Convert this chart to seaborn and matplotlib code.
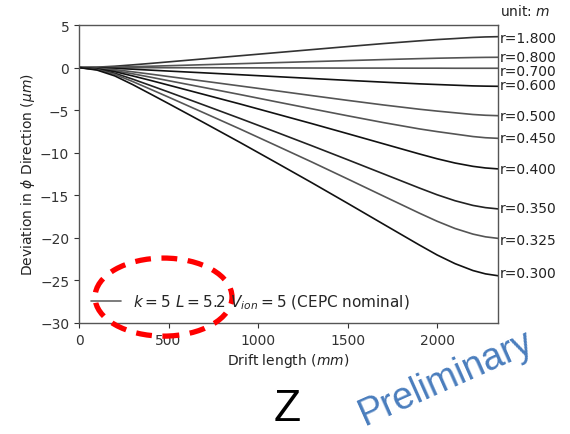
import matplotlib
matplotlib.use("Agg")
import matplotlib.pyplot as plt
from matplotlib.lines import Line2D
from matplotlib.patches import Ellipse
import seaborn as sns
import pandas as pd

# ---- data ----
drift_mm = [0, 100, 200, 300, 400, 500, 700, 900, 1100, 1300, 1500, 1700,
            1900, 2000, 2100, 2200, 2270, 2340]

r_labels = ["r=1.800", "r=0.800", "r=0.700", "r=0.600", "r=0.500",
            "r=0.450", "r=0.400", "r=0.350", "r=0.325", "r=0.300"]

dev_r1800 = [0, 0.05, 0.16, 0.32, 0.49, 0.67, 1.03, 1.39, 1.75, 2.11, 2.47, 2.82, 3.14, 3.29, 3.41, 3.54, 3.60, 3.63]
dev_r0800 = [0, 0.02, 0.05, 0.11, 0.16, 0.22, 0.34, 0.46, 0.58, 0.70, 0.82, 0.94, 1.05, 1.10, 1.14, 1.18, 1.20, 1.21]
dev_r0700 = [0, 0.0, 0.0, -0.01, -0.01, -0.02, -0.02, -0.03, -0.04, -0.05, -0.06, -0.06, -0.07, -0.07, -0.08, -0.08, -0.08, -0.08]
dev_r0600 = [0, -0.03, -0.09, -0.19, -0.30, -0.41, -0.62, -0.84, -1.06, -1.28, -1.50, -1.71, -1.91, -1.99, -2.07, -2.15, -2.18, -2.20]
dev_r0500 = [0, -0.07, -0.24, -0.50, -0.77, -1.05, -1.60, -2.16, -2.72, -3.29, -3.85, -4.39, -4.89, -5.11, -5.31, -5.51, -5.60, -5.65]
dev_r0450 = [0, -0.11, -0.36, -0.73, -1.13, -1.54, -2.35, -3.17, -4.01, -4.84, -5.66, -6.46, -7.20, -7.52, -7.81, -8.10, -8.24, -8.31]
dev_r0400 = [0, -0.14, -0.48, -0.98, -1.51, -2.06, -3.17, -4.28, -5.43, -6.58, -7.76, -8.95, -10.14, -10.71, -11.21, -11.60, -11.79, -11.90]
dev_r0350 = [0, -0.20, -0.66, -1.36, -2.11, -2.87, -4.42, -5.98, -7.57, -9.18, -10.82, -12.48, -14.14, -14.94, -15.64, -16.19, -16.45, -16.60]
dev_r0325 = [0, -0.24, -0.80, -1.64, -2.55, -3.47, -5.34, -7.22, -9.15, -11.09, -13.08, -15.09, -17.09, -18.05, -18.90, -19.56, -19.88, -20.06]
dev_r0300 = [0, -0.29, -0.98, -2.00, -3.11, -4.23, -6.50, -8.80, -11.15, -13.52, -15.94, -18.39, -20.83, -22.01, -23.03, -23.84, -24.23, -24.45]

series = [dev_r1800, dev_r0800, dev_r0700, dev_r0600, dev_r0500,
          dev_r0450, dev_r0400, dev_r0350, dev_r0325, dev_r0300]

# label heights at right edge (slightly spread to avoid overlap)
label_y = [3.45, 1.25, -0.4, -2.05, -5.7, -8.3, -11.9, -16.5, -20.2, -24.1]

x_ticks = [0, 500, 1000, 1500, 2000]
y_ticks = [-30, -25, -20, -15, -10, -5, 0, 5]

legend_text = r"$k = 5$ $L = 5.2$ $V_{ion} = 5$ (CEPC nominal)"

# ---- build table ----
rows = []
for lab, vals in zip(r_labels, series):
    for xv, yv in zip(drift_mm, vals):
        rows.append({"drift": xv, "dev": yv, "r": lab})
df = pd.DataFrame(rows)

sns.set_style("ticks")
plt.rcParams["font.family"] = ["DejaVu Sans"]

fig = plt.figure(figsize=(5.7, 4.35), dpi=100)
ax = fig.add_axes([0.1386, 0.2552, 0.7351, 0.6850])

shades = ["#333333", "#555555", "#555555", "#111111", "#555555",
          "#555555", "#111111", "#222222", "#555555", "#111111"]
palette = dict(zip(r_labels, shades))

sns.lineplot(data=df, x="drift", y="dev", hue="r", palette=palette,
             linewidth=1.2, legend=False, ax=ax, sort=False)

ax.set_xlim(0, 2340)
ax.set_ylim(-30, 5)
ax.set_xticks(x_ticks)
ax.set_yticks(y_ticks)
ax.tick_params(labelsize=10, colors="#333333", direction="out", length=3.5)
for s in ax.spines.values():
    s.set_color("#555555")
    s.set_linewidth(1.0)

ax.set_xlabel(r"Drift length ($mm$)", fontsize=10, color="#222222", labelpad=3)
ax.set_ylabel(r"Deviation in $\phi$ Direction ($\mu m$)", fontsize=10,
              color="#222222", labelpad=2)

for lab, yv in zip(r_labels, label_y):
    ax.text(2352, yv, lab, fontsize=10, va="center", ha="left", color="#222222")

ax.text(2352, 6.7, r"unit: $m$", fontsize=10, va="center", ha="left",
        color="#222222")

handle = Line2D([0], [0], color="#666666", linewidth=1.2)
ax.legend([handle], [legend_text], loc="lower left", frameon=False,
          fontsize=11, bbox_to_anchor=(-0.005, -0.006), handlelength=2.0,
          handletextpad=0.75)

ell = Ellipse((472, -26.96), 765, 9.17, fill=False, edgecolor="#ff0000",
              linewidth=3.8, linestyle=(0, (3, 2)), clip_on=False, zorder=5)
ax.add_patch(ell)

fig.text(287 / 570, 1 - 410 / 435, "Z", fontsize=32, ha="center",
         va="center", color="black", family=["Liberation Sans", "DejaVu Sans"])
fig.text(446 / 570, 1 - 378 / 435, "Preliminary", fontsize=27, rotation=24,
         ha="center", va="center", color="#4a7dbd",
         family=["Liberation Sans", "DejaVu Sans"])

fig.savefig("out.png", dpi=100)
